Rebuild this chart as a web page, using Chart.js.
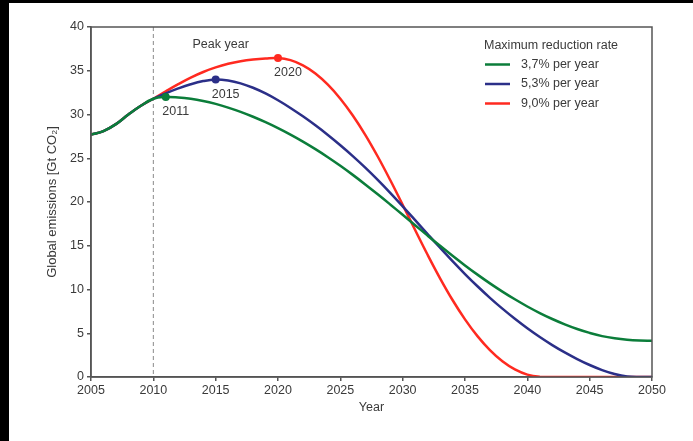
<!DOCTYPE html>
<html>
<head>
<meta charset="utf-8">
<script src="https://cdn.jsdelivr.net/npm/chart.js@4/dist/chart.umd.min.js"></script>
<style>
  html, body { margin: 0; padding: 0; background: #000; }
  #wrap { position: absolute; left: 9px; top: 3px; width: 684px; height: 438px; background: #fff; }
</style>
</head>
<body>
<div id="wrap"><canvas id="chart" width="684" height="438"></canvas></div>
<script>
// years shared by all series
var years = [];
for (var y = 2005; y <= 2050; y++) years.push(y);

// common past emissions 2005-2010
var pastEmissions = [27.7, 28.1, 28.9, 30.0, 31.0, 31.8];

// 2011-2050 per scenario
var green = pastEmissions.concat([32.0, 31.95, 31.8, 31.55, 31.21, 30.79, 30.3, 29.74, 29.12, 28.44,
    27.7, 26.9, 26.04, 25.12, 24.14, 23.1, 22.01, 20.88, 19.72, 18.54,
    17.35, 16.16, 14.99, 13.85, 12.75, 11.7, 10.7, 9.76, 8.88, 8.06,
    7.31, 6.63, 6.02, 5.49, 5.04, 4.67, 4.42, 4.25, 4.16, 4.13]);
var blue = pastEmissions.concat([32.42, 32.98, 33.46, 33.82, 34.0, 33.88, 33.56, 33.06, 32.41, 31.63,
    30.75, 29.79, 28.76, 27.66, 26.49, 25.25, 23.93, 22.53, 21.05, 19.51,
    17.93, 16.34, 14.77, 13.24, 11.77, 10.37, 9.05, 7.81, 6.65, 5.57,
    4.57, 3.65, 2.81, 2.05, 1.37, 0.79, 0.34, 0.06, 0, 0]);
var red = pastEmissions.concat([32.65, 33.47, 34.22, 34.86, 35.38, 35.79, 36.09, 36.29, 36.41, 36.46,
    36.21, 35.62, 34.69, 33.41, 31.81, 29.89, 27.68, 25.2, 22.51, 19.68,
    16.8, 13.97, 11.28, 8.8, 6.59, 4.67, 3.07, 1.79, 0.86, 0.27,
    0.02, 0, 0, 0, 0, 0, 0, 0, 0, 0]);

var seriesNames = ["3,7% per year", "5,3% per year", "9,0% per year"];
var seriesColors = ["#0b7d3a", "#2b2f88", "#ff2a20"];
var peakYears = [2011, 2015, 2020];
var xTicks = [2005, 2010, 2015, 2020, 2025, 2030, 2035, 2040, 2045, 2050];
var yTicks = [0, 5, 10, 15, 20, 25, 30, 35, 40];
var markerYear = 2010;

var FONT = "'Liberation Sans', Arial, sans-serif";
var TEXT = "#3a3a3a";

function points(vals) {
    return vals.map(function (v, i) { return { x: years[i], y: v }; });
}

function makeSet(vals, i) {
    return {
        label: seriesNames[i],
        data: points(vals),
        borderColor: seriesColors[i],
        backgroundColor: seriesColors[i],
        borderWidth: 2.5,
        tension: 0.4,
        pointRadius: function (c) { return years[c.dataIndex] === peakYears[i] ? 4 : 0; },
        pointHoverRadius: 0,
        pointBorderWidth: 0
    };
}

var extras = {
    id: "extras",
    beforeDatasetsDraw: function (chart) {
        var ctx = chart.ctx, a = chart.chartArea, xs = chart.scales.x;
        var px = xs.getPixelForValue(markerYear);
        ctx.save();
        ctx.strokeStyle = "#8a8a8a";
        ctx.lineWidth = 1;
        ctx.setLineDash([4, 3]);
        ctx.beginPath();
        ctx.moveTo(px, a.top);
        ctx.lineTo(px, a.bottom);
        ctx.stroke();
        ctx.restore();
    },
    afterDraw: function (chart) {
        var ctx = chart.ctx, a = chart.chartArea, xs = chart.scales.x, ys = chart.scales.y;
        ctx.save();
        // frame
        ctx.strokeStyle = "#555";
        ctx.lineWidth = 1.5;
        ctx.strokeRect(a.left, a.top, a.right - a.left, a.bottom - a.top);

        ctx.fillStyle = TEXT;
        ctx.font = "12.5px " + FONT;
        ctx.textBaseline = "middle";

        // peak labels
        ctx.textAlign = "center";
        var sets = [green, blue, red];
        peakYears.forEach(function (yr, i) {
            var v = sets[i][years.indexOf(yr)];
            ctx.fillText(String(yr), xs.getPixelForValue(yr) + 10, ys.getPixelForValue(v) + 15);
        });
        ctx.fillText("Peak year", xs.getPixelForValue(2015.4), ys.getPixelForValue(38.05));

        // axis titles
        ctx.fillText("Year", (a.left + a.right) / 2, a.bottom + 31);
        ctx.save();
        ctx.font = "13px " + FONT;
        ctx.translate(a.left - 39, (a.top + a.bottom) / 2);
        ctx.rotate(-Math.PI / 2);
        ctx.fillText("Global emissions [Gt CO\u2082]", 0, 0);
        ctx.restore();

        // legend
        var lx = a.right - 168, ly = a.top + 19;
        ctx.textAlign = "left";
        ctx.fillText("Maximum reduction rate", lx, ly);
        seriesNames.forEach(function (n, i) {
            var yy = ly + 18.5 + i * 19.5;
            ctx.strokeStyle = seriesColors[i];
            ctx.lineWidth = 2.5;
            ctx.beginPath();
            ctx.moveTo(lx + 1, yy);
            ctx.lineTo(lx + 26, yy);
            ctx.stroke();
            ctx.fillText(n, lx + 37, yy);
        });
        ctx.restore();
    }
};

new Chart(document.getElementById("chart"), {
    type: "line",
    data: { datasets: [makeSet(green, 0), makeSet(blue, 1), makeSet(red, 2)] },
    options: {
        responsive: false,
        animation: false,
        layout: { padding: { top: 24, right: 41, left: 0, bottom: 0 } },
        plugins: { legend: { display: false }, tooltip: { enabled: false } },
        scales: {
            x: {
                type: "linear",
                min: 2005, max: 2050,
                afterBuildTicks: function (s) { s.ticks = xTicks.map(function (v) { return { value: v }; }); },
                afterFit: function (s) { s.height = 64; },
                ticks: { color: TEXT, font: { family: FONT, size: 12.5 }, padding: 2, maxRotation: 0,
                    callback: function (v) { return String(v); } },
                grid: { drawOnChartArea: false, color: "#555", tickLength: 4, lineWidth: 1.5 },
                border: { color: "#555", width: 1.5 }
            },
            y: {
                min: 0, max: 40,
                afterBuildTicks: function (s) { s.ticks = yTicks.map(function (v) { return { value: v }; }); },
                afterFit: function (s) { s.width = 82; },
                ticks: { color: TEXT, font: { family: FONT, size: 12.5 }, padding: 3,
                    callback: function (v) { return String(v); } },
                grid: { drawOnChartArea: false, color: "#555", tickLength: 4, lineWidth: 1.5 },
                border: { color: "#555", width: 1.5 }
            }
        }
    },
    plugins: [extras]
});
</script>
</body>
</html>
